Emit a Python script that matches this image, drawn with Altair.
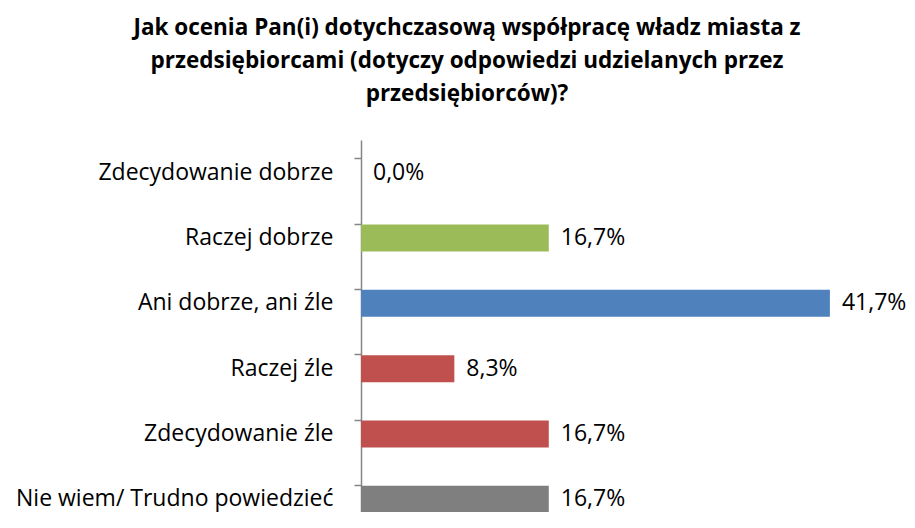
import altair as alt
import pandas as pd

categories = [
    "Zdecydowanie dobrze",
    "Raczej dobrze",
    "Ani dobrze, ani źle",
    "Raczej źle",
    "Zdecydowanie źle",
    "Nie wiem/ Trudno powiedzieć",
]
values = [0.0, 16.7, 41.7, 8.3, 16.7, 16.7]
colors = ["#9BBB59", "#9BBB59", "#4F81BD", "#C0504D", "#C0504D", "#7F7F7F"]

df = pd.DataFrame({
    "cat": categories,
    "val": values,
    "color": colors,
    "label": [f"{v:.1f}".replace(".", ",") + "%" for v in values],
})

FONT = "Open Sans"

y = alt.Y("cat:N", sort=categories, title=None,
          scale=alt.Scale(paddingInner=0.58, paddingOuter=0.29),
          axis=alt.Axis(bandPosition=0, domainColor="#868686", tickColor="#868686",
                        tickSize=7, labelPadding=21, labelFont=FONT, labelFontSize=23,
                        labelLimit=0, labelColor="#000000", domainWidth=1.5, tickWidth=1.5))
x = alt.X("val:Q", scale=alt.Scale(domain=[0, 45]), axis=None)

bars = alt.Chart(df).mark_bar(size=27).encode(
    y=y, x=x, color=alt.Color("color:N", scale=None))

text = alt.Chart(df).mark_text(align="left", baseline="middle", dx=12,
                               font=FONT, fontSize=23, color="#000000").encode(
    y=alt.Y("cat:N", sort=categories), x=x, text="label:N")

chart = (bars + text).properties(
    width=506, height=392,
    title=alt.TitleParams(
        text=["Jak ocenia Pan(i) dotychczasową współpracę władz miasta z",
              "przedsiębiorcami (dotyczy odpowiedzi udzielanych przez",
              "przedsiębiorców)?"],
        font=FONT, fontSize=22.5, fontWeight="bold", color="#000000",
        anchor="middle", dx=-147, lineHeight=33, offset=35),
    autosize=alt.AutoSizeParams(type="none"),
    padding={"left": 353, "top": 132, "right": 40, "bottom": -20},
).configure_view(stroke=None)

chart.save("out.html", embed_options={"renderer": "svg", "actions": False})
